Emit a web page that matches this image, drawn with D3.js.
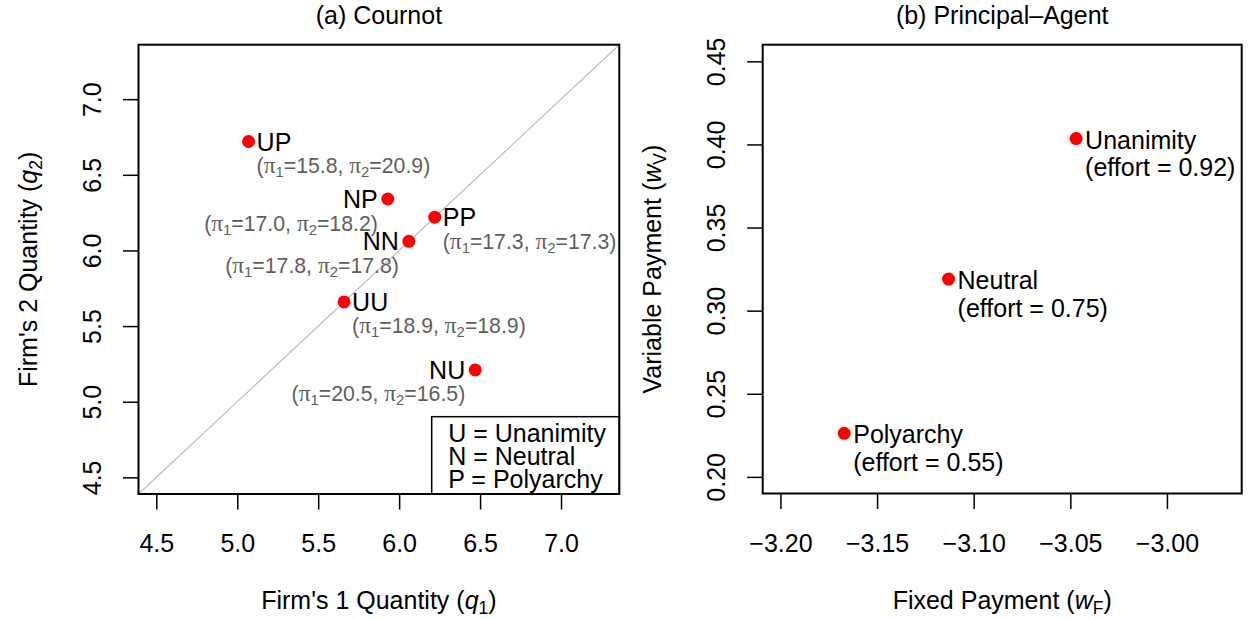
<!DOCTYPE html>
<html>
<head>
<meta charset="utf-8">
<script src="https://cdn.jsdelivr.net/npm/d3@7"></script>
<style>
  html, body { margin: 0; padding: 0; background: #fff; }
  svg { display: block; font-family: "Liberation Sans", Arial, Helvetica, sans-serif; }
</style>
</head>
<body>
<svg id="chart" width="1249" height="619"></svg>
<script>
// ---- Panel (a): Cournot equilibria ----
const cournotCodes = ["UP", "NP", "PP", "NN", "UU", "NU"];
const q1Values = [5.07, 5.93, 6.22, 6.06, 5.66, 6.47];
const q2Values = [6.72, 6.34, 6.22, 6.06, 5.66, 5.21];
const profit1 = [15.8, 17.0, 17.3, 17.8, 18.9, 20.5];
const profit2 = [20.9, 18.2, 17.3, 17.8, 18.9, 16.5];
const cournotTicks = [4.5, 5.0, 5.5, 6.0, 6.5, 7.0];
const cournotLimits = [4.5, 7.25];
const legendLines = [["U", "Unanimity"], ["N", "Neutral"], ["P", "Polyarchy"]];

// ---- Panel (b): Principal-Agent contracts ----
const regimes = ["Unanimity", "Neutral", "Polyarchy"];
const fixedPay = [-3.047, -3.113, -3.167];
const variablePay = [0.4035, 0.319, 0.2262];
const effortValues = [0.92, 0.75, 0.55];
const fixedTicks = [-3.20, -3.15, -3.10, -3.05, -3.00];
const variableTicks = [0.20, 0.25, 0.30, 0.35, 0.40, 0.45];
const fixedLimits = [-3.2, -2.9705];
const variableLimits = [0.20, 0.45];

// ---- layout ----
const FS = 25;          // base font size
const FS_NOTE = 21.25;  // annotation font size
const svg = d3.select("#chart");

// R-style 4% axis expansion
function expand(lim) {
  const d = (lim[1] - lim[0]) * 0.04;
  return [lim[0] - d, lim[1] + d];
}

function panel(opts) {
  const { left, right, top, bottom } = opts;
  const g = svg.append("g");
  const x = d3.scaleLinear().domain(expand(opts.xlim)).range([left, right]);
  const y = d3.scaleLinear().domain(expand(opts.ylim)).range([bottom, top]);

  // x axis
  const ax = g.append("g").attr("transform", `translate(0,${bottom})`)
    .call(d3.axisBottom(x).tickValues(opts.xticks).tickSize(15.5).tickFormat(opts.xfmt));
  ax.select(".domain").remove();
  ax.selectAll(".tick line").attr("stroke", "#000").attr("stroke-width", 1.5);
  ax.selectAll(".tick text").attr("y", 58).attr("dy", 0)
    .attr("font-size", FS).attr("fill", "#000").attr("font-family", "Liberation Sans, Arial, sans-serif");

  // y axis
  const ay = g.append("g").attr("transform", `translate(${left},0)`)
    .call(d3.axisLeft(y).tickValues(opts.yticks).tickSize(15.5).tickFormat(opts.yfmt));
  ay.select(".domain").remove();
  ay.selectAll(".tick line").attr("stroke", "#000").attr("stroke-width", 1.5);
  ay.selectAll(".tick text").attr("x", 0).attr("y", 0).attr("dy", 0)
    .attr("transform", "translate(-38,0) rotate(-90)")
    .attr("text-anchor", "middle")
    .attr("font-size", FS).attr("fill", "#000").attr("font-family", "Liberation Sans, Arial, sans-serif");

  // title
  g.append("text").attr("x", (left + right) / 2).attr("y", 24)
    .attr("text-anchor", "middle").attr("font-size", FS).text(opts.title);

  // x axis title
  const xt = g.append("text").attr("x", (left + right) / 2).attr("y", 609)
    .attr("text-anchor", "middle").attr("font-size", FS);
  mathLabel(xt, opts.xlab);

  // y axis title
  const yt = g.append("text")
    .attr("transform", `translate(${left - 102},${(top + bottom) / 2}) rotate(-90)`)
    .attr("text-anchor", "middle").attr("font-size", FS);
  mathLabel(yt, opts.ylab);

  return { g, x, y };
}

// label with italic symbol and subscript: [prefix, symbol, sub, suffix]
function mathLabel(t, parts) {
  t.append("tspan").text(parts[0]);
  t.append("tspan").attr("font-style", "italic").text(parts[1]);
  t.append("tspan").attr("font-size", FS * 0.7).attr("dy", 5).text(parts[2]);
  t.append("tspan").attr("dy", -5).text(parts[3]);
}

function drawBox(g, left, right, top, bottom) {
  g.append("rect").attr("x", left).attr("y", top)
    .attr("width", right - left).attr("height", bottom - top)
    .attr("fill", "none").attr("stroke", "#000").attr("stroke-width", 2);
}

// ---------------- Panel (a) ----------------
const A = { left: 138.5, right: 619.3, top: 44.7, bottom: 494 };
const pa = panel({
  ...A,
  xlim: cournotLimits, ylim: cournotLimits,
  xticks: cournotTicks, yticks: cournotTicks,
  xfmt: d3.format(".1f"), yfmt: d3.format(".1f"),
  title: "(a) Cournot",
  xlab: ["Firm's 1 Quantity (", "q", "1", ")"],
  ylab: ["Firm's 2 Quantity (", "q", "2", ")"]
});

// 45-degree line q1 = q2
const dom = pa.x.domain();
pa.g.append("line")
  .attr("x1", pa.x(dom[0])).attr("y1", pa.y(dom[0]))
  .attr("x2", pa.x(dom[1])).attr("y2", pa.y(dom[1]))
  .attr("stroke", "#bebebe").attr("stroke-width", 1.2);

// label side for each equilibrium code
const sideOf = { UP: "right", NP: "left", PP: "right", NN: "left", UU: "right", NU: "left" };

const cournot = cournotCodes.map((c, i) => ({
  code: c, q1: q1Values[i], q2: q2Values[i], p1: profit1[i], p2: profit2[i]
}));

pa.g.selectAll("circle.pt").data(cournot).enter().append("circle")
  .attr("class", "pt")
  .attr("cx", d => pa.x(d.q1)).attr("cy", d => pa.y(d.q2))
  .attr("r", 6.5).attr("fill", "#ff0000");

cournot.forEach(d => {
  const px = pa.x(d.q1), py = pa.y(d.q2);
  const right = sideOf[d.code] === "right";
  const tx = right ? px + 8 : px - 10;
  const anchor = right ? "start" : "end";
  pa.g.append("text").attr("x", tx).attr("y", py + 9)
    .attr("text-anchor", anchor).attr("font-size", FS).text(d.code);

  const note = pa.g.append("text").attr("x", tx).attr("y", py + 24 + 7.5)
    .attr("text-anchor", anchor).attr("font-size", FS_NOTE).attr("fill", "#5e5e5e");
  note.append("tspan").text("(");
  note.append("tspan").attr("font-family", "Liberation Serif, serif").attr("font-size", FS_NOTE * 1.1).text("π");
  note.append("tspan").attr("font-size", FS_NOTE * 0.7).attr("dy", 4).text("1");
  note.append("tspan").attr("dy", -4).text("=" + d.p1.toFixed(1) + ", ");
  note.append("tspan").attr("font-family", "Liberation Serif, serif").attr("font-size", FS_NOTE * 1.1).text("π");
  note.append("tspan").attr("font-size", FS_NOTE * 0.7).attr("dy", 4).text("2");
  note.append("tspan").attr("dy", -4).text("=" + d.p2.toFixed(1) + ")");
});

// legend
const legX0 = 431.7, legY0 = 416.7;
pa.g.append("rect").attr("x", legX0).attr("y", legY0)
  .attr("width", A.right - legX0).attr("height", A.bottom - legY0)
  .attr("fill", "#fff").attr("stroke", "#000").attr("stroke-width", 1.5);
legendLines.forEach((l, i) => {
  pa.g.append("text").attr("x", legX0 + 16.5).attr("y", 441.7 + i * 23.3)
    .attr("font-size", FS).text(l[0] + " = " + l[1]);
});

drawBox(pa.g, A.left, A.right, A.top, A.bottom);

// ---------------- Panel (b) ----------------
const B = { left: 762.7, right: 1241.7, top: 44.7, bottom: 493.5 };
const pb = panel({
  ...B,
  xlim: fixedLimits, ylim: variableLimits,
  xticks: fixedTicks, yticks: variableTicks,
  xfmt: d3.format(".2f"), yfmt: d3.format(".2f"),
  title: "(b) Principal\u2013Agent",
  xlab: ["Fixed Payment (", "w", "F", ")"],
  ylab: ["Variable Payment (", "w", "V", ")"]
});

const contracts = regimes.map((r, i) => ({
  name: r, wf: fixedPay[i], wv: variablePay[i], effort: effortValues[i]
}));

pb.g.selectAll("circle.pt").data(contracts).enter().append("circle")
  .attr("class", "pt")
  .attr("cx", d => pb.x(d.wf)).attr("cy", d => pb.y(d.wv))
  .attr("r", 6.5).attr("fill", "#ff0000");

contracts.forEach(d => {
  const px = pb.x(d.wf), py = pb.y(d.wv);
  pb.g.append("text").attr("x", px + 9).attr("y", py + 10)
    .attr("font-size", FS).text(d.name);
  pb.g.append("text").attr("x", px + 9).attr("y", py + 37.5)
    .attr("font-size", FS).text("(effort = " + d.effort.toFixed(2) + ")");
});

drawBox(pb.g, B.left, B.right, B.top, B.bottom);
</script>
</body>
</html>
